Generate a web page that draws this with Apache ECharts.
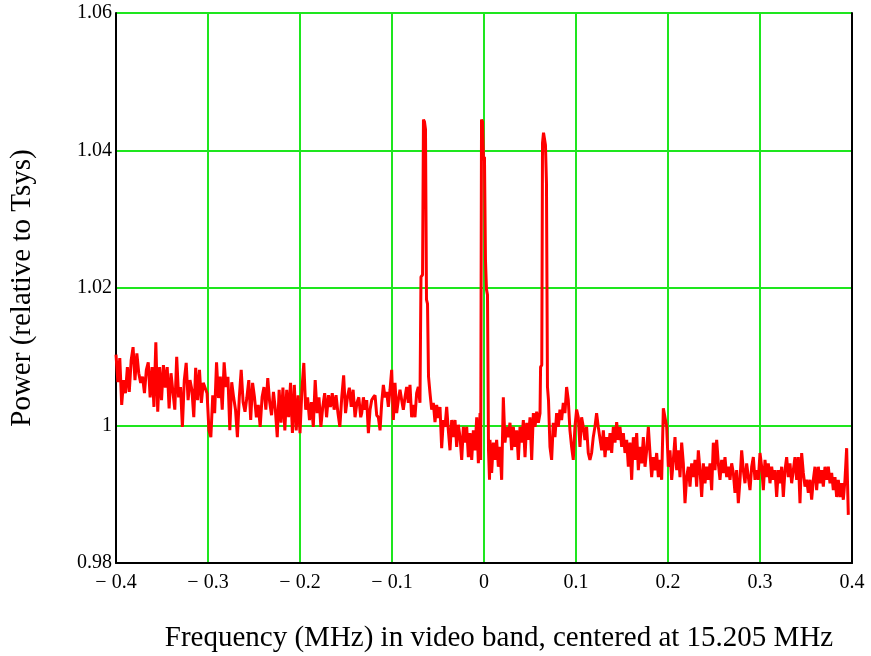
<!DOCTYPE html>
<html>
<head>
<meta charset="utf-8">
<script src="https://cdn.jsdelivr.net/npm/echarts@6/dist/echarts.min.js"></script>
<style>
  html, body { margin: 0; padding: 0; background: #ffffff; }
  #chart { width: 871px; height: 656px; }
</style>
</head>
<body>
<div id="chart"></div>
<script>
// Power spectrum of the video band: noisy baseline with three narrow lines.
// Baseline stretches are evenly sampled between their start and end frequency;
// the narrow lines carry their own frequency lists.

const xTicks = [-0.4, -0.3, -0.2, -0.1, 0, 0.1, 0.2, 0.3, 0.4];
const yTicks = [0.98, 1.0, 1.02, 1.04, 1.06];

// -0.400 .. -0.134 MHz
const bandA = [
  1.0103, 1.0063, 1.0098, 1.0030, 1.0066, 1.0047, 1.0085, 1.0049, 1.0095, 1.0114,
  1.0066, 1.0105, 1.0076, 1.0062, 1.0071, 1.0047, 1.0081, 1.0092, 1.0041, 1.0085,
  1.0027, 1.0121, 1.0020, 1.0085, 1.0037, 1.0088, 1.0055, 1.0085, 1.0025, 1.0076,
  1.0049, 1.0023, 1.0100, 1.0041, 1.0056, 0.9998, 1.0066, 1.0091, 1.0037, 1.0066,
  1.0052, 1.0012, 1.0084, 1.0037, 1.0081, 1.0033, 1.0062, 1.0063, 1.0047, 0.9993,
  0.9983, 1.0044, 1.0018, 1.0092, 1.0040, 1.0071, 1.0023, 1.0092, 1.0056, 1.0071,
  0.9993, 1.0063, 1.0041, 1.0023, 0.9983, 1.0041, 1.0081, 1.0034, 1.0020, 1.0041,
  1.0066, 1.0008, 1.0062, 1.0041, 1.0012, 1.0030, 0.9998, 1.0041, 1.0056, 1.0023,
  1.0069, 1.0034, 1.0015, 1.0049, 1.0023, 0.9983, 1.0052, 1.0004, 1.0055, 0.9993,
  1.0052, 1.0012, 1.0062, 0.9989, 1.0059, 0.9993, 1.0044, 0.9989, 1.0052, 1.0091,
  1.0023, 1.0041, 1.0008, 1.0034, 0.9998, 1.0066, 1.0018, 1.0041, 0.9998, 1.0027,
  1.0047, 1.0012, 1.0044, 1.0027, 1.0047, 1.0023, 1.0044, 1.0018, 0.9998, 1.0041,
  1.0073, 1.0018, 1.0041, 1.0055, 1.0027, 1.0052, 1.0012, 1.0033, 1.0041, 1.0012
];

// -0.1329 .. -0.0696 MHz
const bandB = [
  1.0018, 1.0041, 1.0023, 1.0037, 0.9989, 1.0023, 1.0037, 1.0041, 1.0044, 1.0015,
  1.0012, 0.9993, 1.0033, 1.0059, 1.0041, 1.0049, 1.0027, 1.0052, 1.0081, 1.0008,
  1.0062, 1.0018, 1.0037, 1.0052, 1.0037, 1.0023, 1.0041, 1.0056, 1.0033, 1.0059,
  1.0012, 1.0030, 1.0012, 1.0047, 1.0056, 1.0033
];

// first line, near -0.065 MHz
const lineAFreq  = [-0.0685, -0.0668, -0.0658, -0.0647, -0.0636, -0.0625, -0.0614, -0.0603];
const lineAPower = [ 1.0216,  1.0219,  1.0445,  1.0442,  1.0431,  1.0183,  1.0177,  1.0071];

// -0.0587 .. -0.0043 MHz
const bandC = [
  1.0047, 1.0023, 1.0033, 1.0005, 1.0030, 1.0011, 1.0027, 0.9967, 1.0008, 0.9998,
  1.0027, 0.9993, 0.9964, 1.0008, 0.9983, 1.0008, 0.9969, 1.0001, 0.9983, 0.9950,
  0.9998, 0.9975, 0.9998, 0.9954, 0.9989, 0.9950, 0.9993, 0.9964, 1.0012, 0.9945,
  1.0018
];

// second line, at the band centre
const lineBFreq  = [-0.0036, -0.0027, -0.0016, -0.0005, 0.0005, 0.0016, 0.0027, 0.0038, 0.0049, 0.0060];
const lineBPower = [ 0.9950,  1.0445,  1.0442,  1.0386, 1.0391, 1.0241, 1.0198, 1.0190, 0.9964, 0.9921];

// 0.0065 .. 0.0609 MHz
const bandD = [
  0.9979, 0.9931, 0.9975, 0.9950, 0.9979, 0.9940, 0.9969, 0.9921, 1.0041, 0.9975,
  0.9998, 0.9983, 1.0004, 0.9964, 0.9998, 0.9969, 0.9993, 0.9950, 0.9998, 0.9975,
  1.0008, 0.9954, 1.0004, 0.9979, 1.0012, 0.9950, 1.0018, 0.9998, 1.0020, 1.0004,
  1.0018
];

// third line, near +0.065 MHz
const lineCFreq  = [0.0615, 0.0628, 0.0636, 0.0647, 0.0658, 0.0668, 0.0679, 0.0690, 0.0701];
const lineCPower = [1.0085, 1.0088, 1.0411, 1.0426, 1.0426, 1.0408, 1.0353, 1.0056, 1.0037];

// 0.0717 .. 0.1242 MHz
const bandE = [
  0.9969, 0.9950, 1.0004, 0.9983, 1.0018, 0.9998, 1.0023, 1.0008, 1.0033, 1.0018,
  1.0056, 1.0037, 0.9993, 0.9969, 0.9950, 0.9998, 1.0023, 1.0012, 0.9969, 1.0012,
  0.9998, 0.9979, 0.9998, 0.9960, 0.9950, 0.9960, 0.9983, 0.9998, 1.0018, 0.9998
];

// 0.1261 .. 0.3960 MHz
const bandF = [
  0.9998, 0.9964, 0.9993, 0.9954, 0.9983, 0.9964, 0.9989, 0.9960, 0.9998, 0.9975,
  1.0005, 0.9979, 0.9998, 0.9969, 0.9989, 0.9960, 0.9979, 0.9940, 0.9975, 0.9921,
  0.9983, 0.9950, 0.9989, 0.9935, 0.9969, 0.9945, 0.9983, 0.9940, 0.9964, 0.9998,
  0.9960, 0.9925, 0.9954, 0.9935, 0.9960, 0.9925, 0.9950, 0.9921, 1.0025, 1.0023,
  0.9998, 0.9940, 0.9964, 0.9921, 0.9950, 0.9983, 0.9935, 0.9964, 0.9925, 0.9975,
  0.9945, 0.9887, 0.9925, 0.9940, 0.9911, 0.9945, 0.9925, 0.9950, 0.9911, 0.9964,
  0.9935, 0.9896, 0.9945, 0.9916, 0.9940, 0.9921, 0.9945, 0.9906, 0.9975, 0.9935,
  0.9979, 0.9945, 0.9921, 0.9950, 0.9931, 0.9954, 0.9925, 0.9940, 0.9921, 0.9945,
  0.9931, 0.9902, 0.9935, 0.9887, 0.9921, 0.9964, 0.9935, 0.9916, 0.9945, 0.9925,
  0.9906, 0.9940, 0.9954, 0.9921, 0.9935, 0.9921, 0.9960, 0.9940, 0.9906, 0.9950,
  0.9925, 0.9945, 0.9916, 0.9940, 0.9921, 0.9935, 0.9896, 0.9935, 0.9916, 0.9940,
  0.9896, 0.9935, 0.9954, 0.9925, 0.9945, 0.9916, 0.9935, 0.9954, 0.9921, 0.9954,
  0.9887, 0.9960, 0.9931, 0.9911, 0.9921, 0.9902, 0.9921, 0.9892, 0.9921, 0.9940,
  0.9906, 0.9940, 0.9916, 0.9935, 0.9911, 0.9940, 0.9921, 0.9940, 0.9916, 0.9931,
  0.9906, 0.9925, 0.9896, 0.9921, 0.9896, 0.9916, 0.9892, 0.9921, 0.9967, 0.9870
];

function evenly(from, to, values) {
  const n = values.length;
  return values.map((v, i) => [from + (to - from) * i / (n - 1), v]);
}
function paired(freqs, values) {
  return values.map((v, i) => [freqs[i], v]);
}

const spectrum = [].concat(
  evenly(-0.4, -0.134, bandA),
  evenly(-0.1329, -0.0696, bandB),
  paired(lineAFreq, lineAPower),
  evenly(-0.0587, -0.0043, bandC),
  paired(lineBFreq, lineBPower),
  evenly(0.0065, 0.0609, bandD),
  paired(lineCFreq, lineCPower),
  evenly(0.0717, 0.1242, bandE),
  evenly(0.1261, 0.3960, bandF)
);

const serif = '"Liberation Serif", "DejaVu Serif", serif';
const gridGreen = '#1ee61e';

function xLabel(v) {
  const r = Math.round(v * 10) / 10;
  if (r < 0) return '\u2212 ' + Math.abs(r);
  return String(r);
}
function yLabel(v) {
  return String(parseFloat(v.toFixed(2)));
}

const chart = echarts.init(document.getElementById('chart'), null, { renderer: 'canvas' });
chart.setOption({
  animation: false,
  backgroundColor: '#ffffff',
  grid: { left: 116, right: 19, top: 13, bottom: 93, containLabel: false, outerBoundsMode: 'none' },
  xAxis: {
    type: 'value',
    min: xTicks[0],
    max: xTicks[xTicks.length - 1],
    interval: 0.1,
    axisLine: { show: true, onZero: false, lineStyle: { color: '#000000', width: 2 } },
    axisTick: { show: false },
    axisLabel: {
      formatter: xLabel, color: '#000000', fontFamily: serif, fontSize: 20, margin: 10,
      showMinLabel: true, showMaxLabel: true
    },
    splitLine: { show: true, lineStyle: { color: gridGreen, width: 2 } },
    name: 'Frequency (MHz) in video band, centered at 15.205 MHz',
    nameLocation: 'middle',
    nameGap: 61,
    nameTextStyle: { color: '#000000', fontFamily: serif, fontSize: 29, padding: [0, 0, 0, 30] }
  },
  yAxis: [
    {
      type: 'value',
      min: yTicks[0],
      max: yTicks[yTicks.length - 1],
      interval: 0.02,
      axisLine: { show: true, onZero: false, lineStyle: { color: '#000000', width: 2 } },
      axisTick: { show: false },
      axisLabel: {
        formatter: yLabel, color: '#000000', fontFamily: serif, fontSize: 20, margin: 4,
        showMinLabel: true, showMaxLabel: true
      },
      splitLine: { show: true, lineStyle: { color: gridGreen, width: 2 } },
      name: 'Power (relative to Tsys)',
      nameLocation: 'middle',
      nameGap: 79,
      nameTextStyle: { color: '#000000', fontFamily: serif, fontSize: 29 }
    },
    {
      type: 'value',
      position: 'right',
      min: yTicks[0],
      max: yTicks[yTicks.length - 1],
      interval: 0.02,
      axisLine: { show: true, onZero: false, lineStyle: { color: '#000000', width: 2 } },
      axisTick: { show: false },
      axisLabel: { show: false },
      splitLine: { show: false }
    }
  ],
  series: [{
    type: 'line',
    data: spectrum,
    showSymbol: false,
    symbol: 'none',
    lineStyle: { color: '#ff0000', width: 3 },
    z: 3
  }]
});
</script>
</body>
</html>
